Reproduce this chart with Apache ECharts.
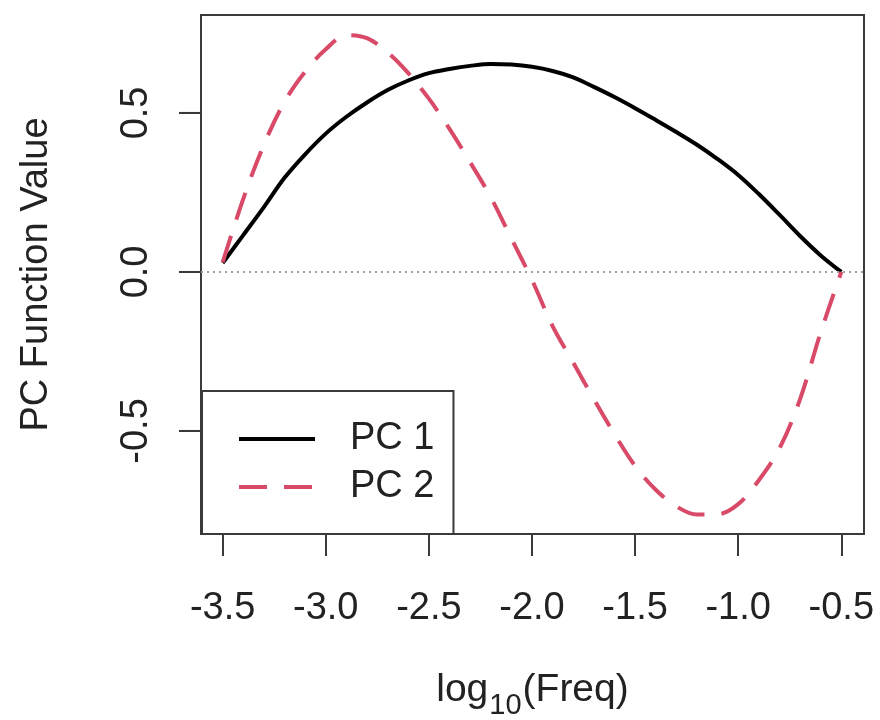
<!DOCTYPE html>
<html>
<head>
<meta charset="utf-8">
<script src="https://cdn.jsdelivr.net/npm/echarts@6/dist/echarts.min.js"></script>
<style>
  html, body { margin: 0; padding: 0; background: #ffffff; }
  #chart { width: 880px; height: 720px; }
</style>
</head>
<body>
<div id="chart"></div>
<script>
// log10 frequency grid
const logFreq = [-3.5, -3.4, -3.3, -3.2, -3.1, -3.0, -2.9, -2.8, -2.7, -2.6, -2.5,
                 -2.4, -2.3, -2.2, -2.1, -2.0, -1.9, -1.8, -1.7, -1.6, -1.5,
                 -1.4, -1.3, -1.2, -1.1, -1.0, -0.9, -0.8, -0.7, -0.6, -0.5];

// first principal component function
const pc1 = [0.028, 0.116, 0.204, 0.296, 0.37, 0.435, 0.488, 0.533, 0.572, 0.602, 0.625,
             0.638, 0.648, 0.654, 0.652, 0.645, 0.632, 0.612, 0.582, 0.55, 0.515,
             0.478, 0.44, 0.40, 0.355, 0.305, 0.245, 0.18, 0.113, 0.052, 0.0];

// second principal component function
const pc2 = [0.03, 0.23, 0.40, 0.535, 0.63, 0.70, 0.745, 0.735, 0.69, 0.625, 0.545,
             0.45, 0.345, 0.235, 0.105, -0.025, -0.17, -0.285, -0.40, -0.51, -0.61,
             -0.685, -0.737, -0.763, -0.762, -0.73, -0.655, -0.555, -0.40, -0.19, 0.0];

const xTicks = [-3.5, -3.0, -2.5, -2.0, -1.5, -1.0, -0.5];
const yTicks = [-0.5, 0.0, 0.5];
const seriesNames = ['PC 1', 'PC 2'];

const FONT = '"Liberation Sans", Arial, Helvetica, sans-serif';
const INK = '#222222';
const RED = '#D84A68';
const BOX = '#3a3a3a';
const TICK_LEN = 22;
const X_MIN = -3.605, X_MAX = -0.39;
const Y_MIN = -0.824, Y_MAX = 0.808;

const pc1Line = { color: '#000000', width: 4 };
const pc2Line = { color: RED, width: 4, type: [28, 17] };
const edgeLine = { color: BOX, width: 2 };

const pairs = (xs, ys) => xs.map((x, i) => [x, ys[i]]);

const chart = echarts.init(document.getElementById('chart'), null, { renderer: 'canvas' });

chart.setOption({
  animation: false,
  backgroundColor: '#ffffff',
  textStyle: { fontFamily: FONT, color: INK },
  grid: {
    left: 201, right: 16, top: 15, bottom: 186,
    outerBoundsMode: 'none',
    show: true, borderColor: BOX, borderWidth: 2, backgroundColor: 'transparent'
  },
  xAxis: {
    type: 'value',
    min: X_MIN, max: X_MAX,
    position: 'bottom',
    splitLine: { show: false },
    axisLine: { show: true, onZero: false, lineStyle: edgeLine },
    axisTick: { show: true, inside: false, length: TICK_LEN, customValues: xTicks,
                lineStyle: edgeLine },
    axisLabel: { customValues: xTicks, margin: 56, fontSize: 38, fontFamily: FONT, color: INK,
                 formatter: v => v.toFixed(1) },
    name: '{a|log}{s|10}{a|(Freq)}',
    nameLocation: 'middle',
    nameGap: 137,
    nameTextStyle: {
      rich: {
        a: { fontSize: 39, fontFamily: FONT, color: INK, lineHeight: 39, verticalAlign: 'top' },
        s: { fontSize: 29, fontFamily: FONT, color: INK, lineHeight: 29, verticalAlign: 'top',
             padding: [20, 1, 0, 1] }
      }
    }
  },
  yAxis: {
    type: 'value',
    min: Y_MIN, max: Y_MAX,
    position: 'left',
    splitLine: { show: false },
    axisLine: { show: true, onZero: false, lineStyle: edgeLine },
    axisTick: { show: true, inside: false, length: TICK_LEN, customValues: yTicks,
                lineStyle: edgeLine },
    axisLabel: { customValues: yTicks, rotate: 90, margin: 45, fontSize: 38, fontFamily: FONT,
                 color: INK, formatter: v => v.toFixed(1) },
    name: 'PC Function Value',
    nameLocation: 'middle',
    nameGap: 145,
    nameTextStyle: { fontSize: 38, fontFamily: FONT, color: INK }
  },
  legend: {
    orient: 'vertical',
    left: 202, top: 391,
    padding: [29, 19, 28, 35],
    itemWidth: 76, itemHeight: 38, itemGap: 10,
    borderColor: BOX, borderWidth: 2, borderRadius: 0,
    backgroundColor: '#ffffff',
    textStyle: { fontSize: 38, fontFamily: FONT, color: INK, padding: [0, 0, 0, 30] },
    data: [
      { name: seriesNames[0], itemStyle: { opacity: 0 }, lineStyle: pc1Line },
      { name: seriesNames[1], itemStyle: { opacity: 0 }, lineStyle: pc2Line }
    ]
  },
  series: [
    {
      name: seriesNames[0],
      type: 'line',
      data: pairs(logFreq, pc1),
      smooth: 0.35,
      symbol: 'none',
      lineStyle: pc1Line,
      itemStyle: { color: '#000000' },
      // dotted reference line at zero
      markLine: {
        silent: true,
        symbol: 'none',
        label: { show: false },
        lineStyle: { color: '#a0a0a0', type: [2, 4], width: 2 },
        data: [{ yAxis: 0 }]
      },
      z: 3
    },
    {
      name: seriesNames[1],
      type: 'line',
      data: pairs(logFreq, pc2),
      smooth: 0.35,
      symbol: 'none',
      lineStyle: pc2Line,
      itemStyle: { color: RED },
      z: 3
    }
  ]
});

// outward tick marks on the left edge of the box, placed through the y scale
const boxLeft = chart.convertToPixel({ xAxisIndex: 0 }, X_MIN);
chart.setOption({
  graphic: yTicks.map(v => {
    const py = chart.convertToPixel({ yAxisIndex: 0 }, v);
    return {
      type: 'line',
      silent: true,
      shape: { x1: boxLeft - TICK_LEN, y1: py, x2: boxLeft, y2: py },
      style: { stroke: BOX, lineWidth: 2 },
      z: 5
    };
  })
});
</script>
</body>
</html>
